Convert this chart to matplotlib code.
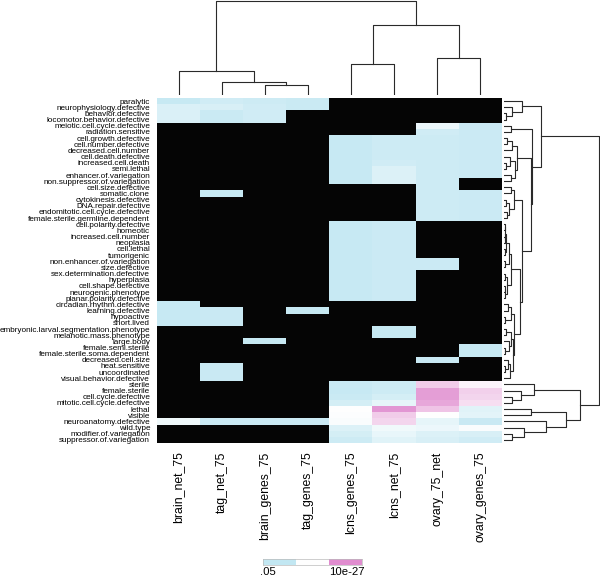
import numpy as np
import matplotlib
matplotlib.use('Agg')
import matplotlib.pyplot as plt
from matplotlib.colors import LinearSegmentedColormap

N = None  # not significant -> black cell

phenotypes = [
    'paralytic', 'neurophysiology.defective', 'behavior.defective',
    'locomotor.behavior.defective', 'meiotic.cell.cycle.defective',
    'radiation.sensitive', 'cell.growth.defective', 'cell.number.defective',
    'decreased.cell.number', 'cell.death.defective', 'increased.cell.death',
    'semi.lethal', 'enhancer.of.variegation', 'non.suppressor.of.variegation',
    'cell.size.defective', 'somatic.clone', 'cytokinesis.defective',
    'DNA.repair.defective', 'endomitotic.cell.cycle.defective',
    'female.sterile.germline.dependent', 'cell.polarity.defective', 'homeotic',
    'increased.cell.number', 'neoplasia', 'cell.lethal', 'tumorigenic',
    'non.enhancer.of.variegation', 'size.defective',
    'sex.determination.defective', 'hyperplasia', 'cell.shape.defective',
    'neurogenic.phenotype', 'planar.polarity.defective',
    'circadian.rhythm.defective', 'learning.defective', 'hypoactive',
    'short.lived', 'embryonic.larval.segmentation.phenotype',
    'melanotic.mass.phenotype', 'large.body', 'female.semi.sterile',
    'female.sterile.soma.dependent', 'decreased.cell.size', 'heat.sensitive',
    'uncoordinated', 'visual.behavior.defective', 'sterile', 'female.sterile',
    'cell.cycle.defective', 'mitotic.cell.cycle.defective', 'lethal', 'visible',
    'neuroanatomy.defective', 'wild.type', 'modifier.of.variegation',
    'suppressor.of.variegation',
]

samples = ['brain_net_75', 'tag_net_75', 'brain_genes_75', 'tag_genes_75',
           'lcns_genes_75', 'lcns_net_75', 'ovary_75_net', 'ovary_genes_75']

# 0 = p of .05 (light blue), 1 = p of 10e-27 (pink), None = black
brain_net_75 = ([0.05, 0.2, 0.2, 0.2] + [N] * 29 + [0.05] * 4 + [N] * 15
                + [0.38] + [N] * 3)
tag_net_75 = ([0.12, 0.18, 0.07, 0.07] + [N] * 11 + [0.05] + [N] * 18
              + [0.06] * 3 + [N] * 6 + [0.06] * 3 + [N] * 6 + [0.08] + [N] * 3)
brain_genes_75 = ([0.1, 0.12, 0.12, 0.12] + [N] * 35 + [0.05] + [N] * 12
                  + [0.08] + [N] * 3)
tag_genes_75 = [0.07, 0.07] + [N] * 32 + [0.05] + [N] * 17 + [0.08] + [N] * 3
lcns_genes_75 = ([N] * 6 + [0.05] * 8 + [N] * 6 + [0.05] * 13 + [N] * 13
                 + [0.06, 0.05, 0.07, 0.15, 0.5, 0.48, 0.45, 0.22, 0.15, 0.1])
lcns_net_75 = ([N] * 6 + [0.1, 0.1, 0.1, 0.1, 0.12, 0.22, 0.22, 0.22] + [N] * 6
               + [0.08] * 13 + [N] * 4 + [0.05] * 2 + [N] * 7
               + [0.1, 0.1, 0.15, 0.3, 0.95, 0.72, 0.68, 0.38, 0.32, 0.25])
ovary_75_net = ([N] * 4 + [0.35, 0.12] + [0.1] * 14 + [N] * 6 + [0.08] * 2
                + [N] * 14 + [0.06] + [N] * 3
                + [0.72, 0.92, 0.92, 0.88, 0.75, 0.5, 0.3, 0.35, 0.22, 0.18])
ovary_genes_75 = ([N] * 4 + [0.08] * 9 + [N] * 2 + [0.08] * 5 + [N] * 20
                  + [0.05] * 2 + [N] * 4
                  + [0.55, 0.7, 0.68, 0.64, 0.25, 0.28, 0.06, 0.45, 0.18, 0.12])

# dendrograms: (left, right, merge height), leaves are indices
col_tree = ((0, (1, (2, 3, 10.0), 13.3), 23.6),
            ((4, 5, 31.3), (6, 7, 37.0), 70.0), 94.3)

top_a = (0, (1, (2, 3, 2.0), 7.7), 17.7)
r3 = (((6, 7, 3.0), 8, 8.0), ((9, (10, 11, 2.0), 6.0), (12, 13, 6.7), 11.0), 13.3)
r5 = ((14, 15, 6.7), ((16, 17, 2.0), (18, 19, 2.5), 5.0), 10.0)
r7 = (((((20, 21, 0.5), (22, 23, 0.5), 1.0), (24, 25, 0.8), 1.8), (26, 27, 1.0), 4.5),
      ((28, 29, 0.6), ((30, 31, 0.5), 32, 1.2), 2.5), 7.0)
r8 = (((33, 34, 4.0), (35, 36, 1.0), 7.0),
      (((37, 38, 1.5), (39, (40, 41, 1.0), 5.0), 7.0),
       ((42, (43, 44, 1.0), 4.0), 45, 6.0), 8.5), 10.0)
r4 = (r5, (r7, r8, 15.7), 18.3)
top_rows = (top_a, ((4, 5, 6.7), (r3, r4, 26.7), 28.3), 36.7)
bottom_rows = ((46, (47, (48, 49, 8.3), 16.7), 30.0),
               ((50, 51, 27.3), (52, (53, (54, 55, 8.3), 20.0), 41.7), 61.7), 76.0)
row_tree = (top_rows, bottom_rows, 94.3)


def draw_tree(ax, node, side):
    if isinstance(node, int):
        return float(node), 0.0
    left, right, h = node
    p1, h1 = draw_tree(ax, left, side)
    p2, h2 = draw_tree(ax, right, side)
    if side == 'top':
        ax.plot([p1, p1, p2, p2], [h1, h, h, h2], color='#2a2a2a', lw=0.8)
    else:
        ax.plot([h1, h, h, h2], [p1, p1, p2, p2], color='#2a2a2a', lw=0.8)
    return (p1 + p2) / 2, h


cols = [brain_net_75, tag_net_75, brain_genes_75, tag_genes_75,
        lcns_genes_75, lcns_net_75, ovary_75_net, ovary_genes_75]
mat = np.array([[np.nan if v is None else v for v in c] for c in cols]).T
mat = np.ma.masked_invalid(mat)

cmap = LinearSegmentedColormap.from_list('bwp', ['#c2e7f2', '#ffffff', '#e08ccf'])
cmap.set_bad('#050505')

W, H = 600, 580
fig = plt.figure(figsize=(6, 5.8), dpi=100)


def px_axes(x0, y0, x1, y1):
    return fig.add_axes([x0 / W, 1 - y1 / H, (x1 - x0) / W, (y1 - y0) / H])


ax = px_axes(157, 98, 502, 443)
ax.imshow(mat, cmap=cmap, vmin=0, vmax=1, aspect='auto', interpolation='nearest')
ax.set_yticks(range(len(phenotypes)))
ax.set_yticklabels(phenotypes, fontsize=5.9, family='Liberation Sans')
ax.set_xticks(range(len(samples)))
ax.set_xticklabels(samples, rotation=90, fontsize=8.8, family='Liberation Sans',
                   va='top', ha='center')
ax.tick_params(length=0, pad=5)
ax.tick_params(axis='x', pad=6)
for s in ax.spines.values():
    s.set_visible(False)

ax_top = px_axes(157, 0, 502, 95)
draw_tree(ax_top, col_tree, 'top')
ax_top.set_xlim(-0.5, 7.5)
ax_top.set_ylim(0, 95)
ax_top.axis('off')

ax_right = px_axes(504, 98, 600, 443)
draw_tree(ax_right, row_tree, 'right')
ax_right.set_ylim(55.5, -0.5)
ax_right.set_xlim(0, 95.5)
ax_right.axis('off')

# key
ax_key = px_axes(263, 559, 362, 565)
ax_key.imshow([[0.0, 0.5, 1.0]], cmap=cmap, vmin=0, vmax=1, aspect='auto')
ax_key.set_xticks([])
ax_key.set_yticks([])
for s in ax_key.spines.values():
    s.set_color('#bbbbbb')
    s.set_linewidth(0.5)
fig.text(260 / W, 1 - 567 / H, '.05', fontsize=8.2, family='Liberation Sans',
         ha='left', va='top')
fig.text(347 / W, 1 - 567 / H, '10e-27', fontsize=8.2, family='Liberation Sans',
         ha='center', va='top')

fig.savefig('out.png', dpi=100)
